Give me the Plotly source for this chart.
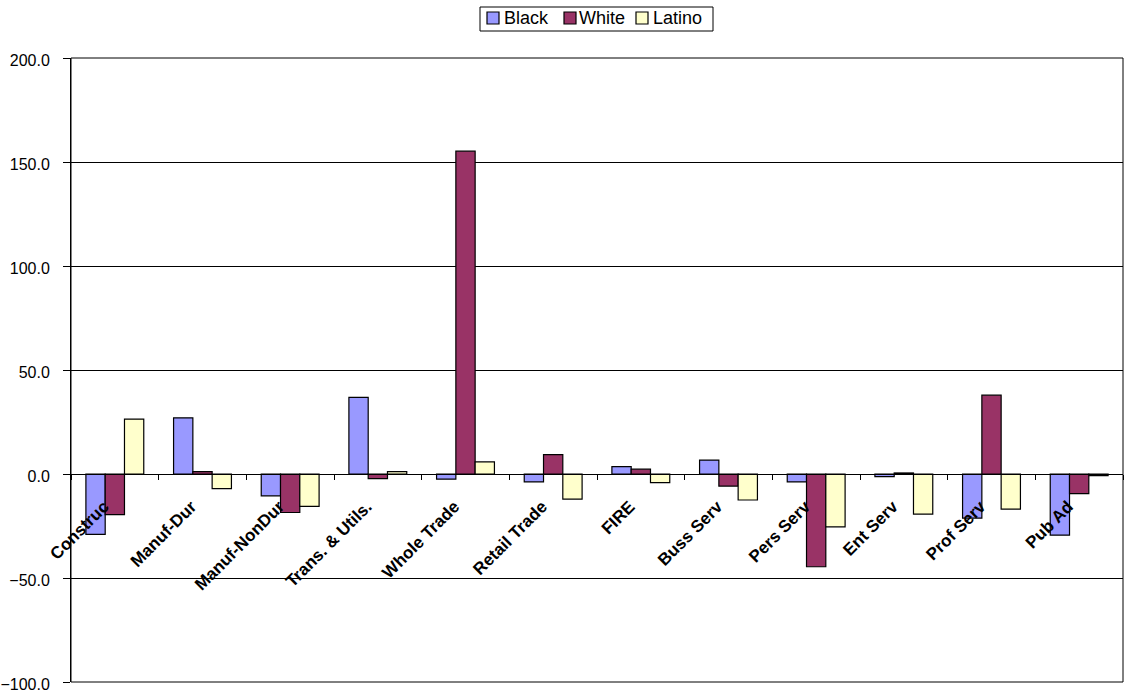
import plotly.graph_objects as go

categories = ["Construc", "Manuf-Dur", "Manuf-NonDur", "Trans. & Utils.", "Whole Trade",
              "Retail Trade", "FIRE", "Buss Serv", "Pers Serv", "Ent Serv", "Prof Serv", "Pub Ad"]

black = [-29.0, 27.0, -10.5, 36.8, -2.5, -3.8, 3.5, 6.7, -3.8, -1.3, -21.2, -29.4]
white = [-19.5, 1.1, -18.5, -2.2, 155.2, 9.3, 2.3, -5.8, -44.6, 0.5, 37.9, -9.4]
latino = [26.4, -7.0, -15.6, 1.1, 5.8, -12.1, -4.1, -12.5, -25.4, -19.3, -16.9, -0.8]

y_ticks = [-100, -50, 0, 50, 100, 150, 200]

series_names = ["Black", "White", "Latino"]
series_values = [black, white, latino]
series_colors = ["#9999FF", "#993366", "#FFFFCC"]

W, H = 1126, 693
M_L, M_R, M_T, M_B = 71, 3, 58, 11
PW, PH = W - M_L - M_R, H - M_T - M_B


def px_to_paper_x(px):
    return (px - M_L) / PW


def px_to_paper_y(py):
    return (H - M_B - py) / PH


fig = go.Figure()
for name, vals, color in zip(series_names, series_values, series_colors):
    fig.add_trace(go.Bar(
        x=categories, y=vals, name=name, showlegend=False,
        marker=dict(color=color, line=dict(color="#000000", width=1.2)),
    ))

y_min, y_max = y_ticks[0], y_ticks[-1]
zero_frac = (0 - y_min) / (y_max - y_min)

fig.update_layout(
    width=W, height=H,
    margin=dict(l=M_L, r=M_R, t=M_T, b=M_B, autoexpand=False),
    paper_bgcolor="white", plot_bgcolor="white",
    barmode="group", bargap=0.34, bargroupgap=0,
    font=dict(family="Arial, Liberation Sans, sans-serif", color="#000000"),
    xaxis=dict(
        type="category", anchor="free", position=zero_frac, automargin=False,
        showline=True, linecolor="#000000", linewidth=1,
        ticks="outside", tickson="boundaries", ticklen=5, tickcolor="#000000",
        tickangle=-45, tickfont=dict(size=17, weight="bold"),
        ticklabelstandoff=15, ticklabelshift=-11,
        showgrid=False, zeroline=False,
    ),
    yaxis=dict(
        range=[y_min, y_max], tickvals=y_ticks, tickformat=".1f", automargin=False,
        showgrid=True, gridcolor="#000000", gridwidth=1,
        showline=True, linecolor="#000000", linewidth=1,
        ticks="outside", ticklen=7, tickcolor="#000000",
        tickfont=dict(size=16), zeroline=False, ticklabelstandoff=10,
        ticklabelshift=2,
    ),
)

# plot-area frame
fig.add_shape(type="rect", xref="paper", yref="paper", x0=0, x1=1, y0=0, y1=1,
              line=dict(color="#000000", width=1), layer="above")

# legend box with square swatches
legend_box = (480, 7, 713, 31)
swatch_x = [487, 564, 636]
text_x = [503, 578, 652]
sw_top, sw_bot, text_mid = 12, 24, 18.5
fig.add_shape(type="rect", xref="paper", yref="paper",
              x0=px_to_paper_x(legend_box[0]), x1=px_to_paper_x(legend_box[2]),
              y0=px_to_paper_y(legend_box[3]), y1=px_to_paper_y(legend_box[1]),
              line=dict(color="#000000", width=1), fillcolor="white")
for name, color, sx, tx in zip(series_names, series_colors, swatch_x, text_x):
    fig.add_shape(type="rect", xref="paper", yref="paper",
                  x0=px_to_paper_x(sx), x1=px_to_paper_x(sx + 12),
                  y0=px_to_paper_y(sw_bot), y1=px_to_paper_y(sw_top),
                  line=dict(color="#000000", width=1.2), fillcolor=color)
    fig.add_annotation(text=name, xref="paper", yref="paper",
                       x=px_to_paper_x(tx), y=px_to_paper_y(text_mid),
                       xanchor="left", yanchor="middle", showarrow=False,
                       font=dict(size=18), borderpad=0)

fig.write_html("out.html")
